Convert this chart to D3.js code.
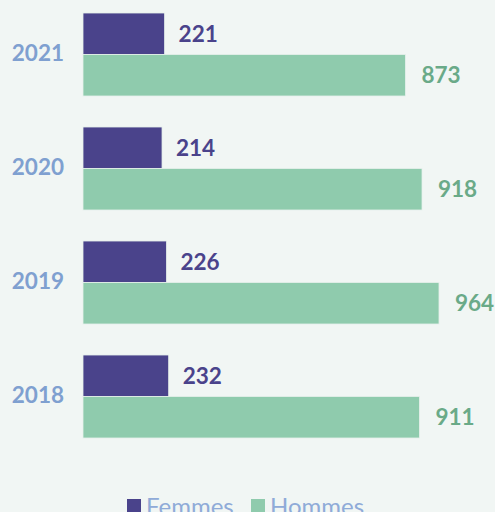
<!DOCTYPE html>
<html>
<head>
<meta charset="utf-8">
<script src="https://cdn.jsdelivr.net/npm/d3@7"></script>
<style>
  html, body { margin: 0; padding: 0; background: #f1f6f4; }
  svg { display: block; }
</style>
</head>
<body>
<svg id="chart" width="495" height="512"></svg>
<script>
const years = ['2021', '2020', '2019', '2018'];
const femmes = [221, 214, 226, 232];
const hommes = [873, 918, 964, 911];
const seriesNames = ['Femmes', 'Hommes'];

(function() {
  let svg = d3.select('#chart');

  let colors = { Femmes: '#4a438b', Hommes: '#8fcbad' };
  let labelColors = { Femmes: '#4a438b', Hommes: '#6aaa88' };

  let x = d3.scaleLinear().domain([0, 964]).range([83, 439]);
  let y = d3.scaleBand().domain(years).range([13, 438]).paddingInner(0.272).paddingOuter(0);
  let sub = d3.scaleBand().domain(seriesNames).range([0, y.bandwidth()]);

  let data = years.map((yr, i) => ({ year: yr, Femmes: femmes[i], Hommes: hommes[i] }));

  let groups = svg.selectAll('g.year')
    .data(data)
    .join('g')
    .attr('class', 'year')
    .attr('transform', (d) => `translate(0, ${y(d.year)})`);

  // year labels
  groups.append('text')
    .attr('x', 64)
    .attr('y', y.bandwidth() / 2 - 1)
    .attr('dy', '0.35em')
    .attr('text-anchor', 'end')
    .attr('font-family', 'Lato, sans-serif')
    .attr('font-weight', 700)
    .attr('font-size', '22.5px')
    .attr('fill', '#7fa0d0')
    .text((d) => d.year);

  seriesNames.forEach((s) => {
    groups.append('rect')
      .attr('x', x(0))
      .attr('y', sub(s))
      .attr('width', (d) => x(d[s]) - x(0))
      .attr('height', sub.bandwidth())
      .attr('fill', colors[s])
      .attr('stroke', '#e6f0ec')
      .attr('stroke-width', 0.8);

    groups.append('text')
      .attr('x', (d) => x(d[s]) + (s === 'Femmes' ? 14 : 16))
      .attr('y', sub(s) + sub.bandwidth() / 2)
      .attr('dy', '0.35em')
      .attr('font-family', 'Lato, sans-serif')
      .attr('font-weight', 700)
      .attr('font-size', '22.5px')
      .attr('fill', labelColors[s])
      .text((d) => d[s]);
  });

  // legend
  let legend = svg.append('g').attr('transform', 'translate(127, 499)');
  let legendX = [0, 124];
  seriesNames.forEach((s, i) => {
    let g = legend.append('g').attr('transform', `translate(${legendX[i]}, 0)`);
    g.append('rect')
      .attr('width', 14)
      .attr('height', 14)
      .attr('fill', colors[s]);
    g.append('text')
      .attr('x', 19)
      .attr('y', 16)
      .attr('font-family', 'Lato, sans-serif')
      .attr('font-size', '24px')
      .attr('fill', '#8fabd8')
      .text(s);
  });
})();
</script>
</body>
</html>
